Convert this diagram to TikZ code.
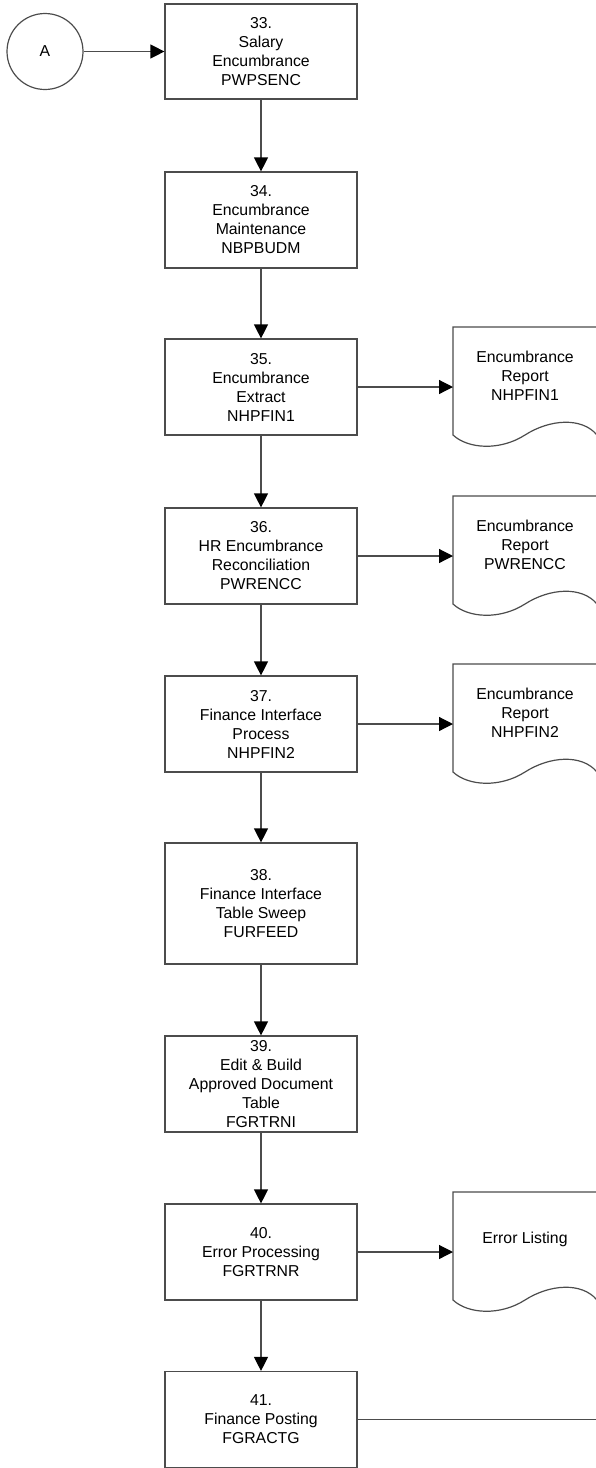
\documentclass[tikz,border=0pt]{standalone}
\usepackage{fontspec}
\setmainfont{Liberation Sans}
\usetikzlibrary{arrows.meta}

\begin{document}
\begin{tikzpicture}[x = 1pt, y = -1pt, > = {Triangle[length = 14pt, width = 14pt, color = black]},
	flow/.style = {draw = black!70, line width = 1.2pt},
	job/.style = {flow, rectangle, minimum width = 192pt, minimum height = 96pt, inner sep = 0pt, align = center, font = \fontsize{15.8}{19}\selectfont},
	report/.style = {align = center, inner sep = 0pt, font = \fontsize{15.8}{19}\selectfont}]

	\useasboundingbox (0, 0) rectangle (596, 1468);

	% Off-page connector
	
	\node [flow, circle, minimum size = 76pt, inner sep = 0pt, font = \fontsize{15.8}{19}\selectfont] (conA) at (45, 51.5) {A};
	
	% Jobs
	
	\node [job, minimum height = 95pt] (job33) at (261, 51.5) {33.\\Salary\\Encumbrance\\PWPSENC};
	\node [job] (job34) at (261, 220) {34.\\Encumbrance\\Maintenance\\NBPBUDM};
	\node [job] (job35) at (261, 387) {35.\\Encumbrance\\Extract\\NHPFIN1};
	\node [job] (job36) at (261, 556) {36.\\HR Encumbrance\\Reconciliation\\PWRENCC};
	\node [job] (job37) at (261, 724) {37.\\Finance Interface\\Process\\NHPFIN2};
	\node [job, minimum height = 121pt] (job38) at (261, 903.5) {38.\\Finance Interface\\Table Sweep\\FURFEED};
	\node [job] (job39) at (261, 1084) {39.\\Edit \& Build\\Approved Document\\Table\\FGRTRNI};
	\node [job] (job40) at (261, 1252) {40.\\Error Processing\\FGRTRNR};
	\node [job] (job41) at (261, 1419.5) {41.\\Finance Posting\\FGRACTG};
	
	% Main flow
	
	\draw [flow, ->] (conA) -- (job33);
	\foreach \a/\b in {33/34, 34/35, 35/36, 36/37, 37/38, 38/39, 39/40, 40/41}
		\draw [flow, ->] (job\a) -- (job\b);
	
	% Reports
	
	\foreach \n/\y in {35/387, 36/556, 37/724, 40/1252} {
		\draw [flow] (453, \y + 48) -- (453, \y - 60) -- (597, \y - 60) -- (597, \y + 48)
			.. controls (582, \y + 30) and (550, \y + 32) .. (525, \y + 48)
			.. controls (500, \y + 64) and (468, \y + 62) .. cycle;
		\coordinate (in\n) at (453, \y);
		\draw [flow, ->] (job\n) -- (in\n);
	}
	\node [report] (rep35) at (525, 376) {Encumbrance\\Report\\NHPFIN1};
	\node [report] (rep36) at (525, 545) {Encumbrance\\Report\\PWRENCC};
	\node [report] (rep37) at (525, 713) {Encumbrance\\Report\\NHPFIN2};
	\node [report] (rep40) at (525, 1239) {Error Listing};
	
	% On to the next page
	
	\coordinate (out41) at (597, 1419.5);
	\draw [flow] (job41) -- (out41);
	
\end{tikzpicture}
\end{document}
